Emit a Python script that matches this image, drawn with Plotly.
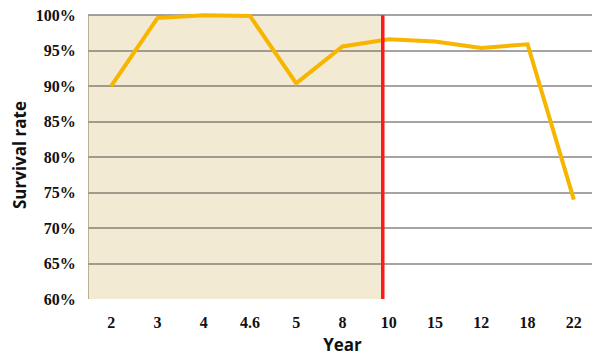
import plotly.graph_objects as go

years = ["2", "3", "4", "4.6", "5", "8", "10", "15", "12", "18", "22"]
survival = [90.0, 99.6, 100.0, 99.9, 90.4, 95.6, 96.6, 96.3, 95.4, 95.9, 74.0]
y_ticks = [60, 65, 70, 75, 80, 85, 90, 95, 100]
cutoff_year = "10"

cut_idx = years.index(cutoff_year) - 0.13

fig = go.Figure()
fig.add_trace(go.Scatter(
    x=years, y=survival, mode="lines",
    line=dict(color="#f7b500", width=4),
    showlegend=False, hoverinfo="skip",
))

fig.add_shape(type="rect", xref="x", yref="y", x0=-0.5, x1=cut_idx,
              y0=y_ticks[0], y1=y_ticks[-1],
              fillcolor="#f3ead3", line=dict(width=0), layer="below")
fig.add_shape(type="line", xref="x", yref="y", x0=cut_idx, x1=cut_idx,
              y0=y_ticks[0], y1=y_ticks[-1],
              line=dict(color="#ff1a1a", width=3.5), layer="above")
fig.add_shape(type="line", xref="x", yref="y", x0=-0.5, x1=-0.5,
              y0=y_ticks[0], y1=y_ticks[-1],
              line=dict(color="#a89c80", width=1.5), layer="above")

tick_font = dict(family="Liberation Serif", size=16, color="#111111")
title_font = dict(family="Open Sans", size=17, color="#111111")

fig.update_layout(
    width=592, height=353,
    margin=dict(l=80, r=3, t=3, b=62, autoexpand=False),
    paper_bgcolor="white", plot_bgcolor="white",
    xaxis=dict(
        type="category", range=[-0.5, len(years) - 0.5],
        showgrid=False, zeroline=False, showline=False,
        ticks="outside", ticklen=9, tickcolor="rgba(0,0,0,0)",
        tickfont=tick_font,
        title=dict(text="<b>Year</b>", font=title_font, standoff=8),
    ),
    yaxis=dict(
        range=[60, 100.6], tickvals=y_ticks,
        ticktext=[f"<b>{v}%</b>" for v in y_ticks],
        ticklabeloverflow="allow",
        showgrid=True, gridcolor="rgba(95,90,80,0.55)", gridwidth=1.5,
        zeroline=False, showline=False,
        ticks="outside", ticklen=8, tickcolor="rgba(0,0,0,0)",
        tickfont=tick_font,
        title=dict(text="<b>Survival rate</b>", font=title_font, standoff=13),
    ),
)
fig.update_xaxes(ticktext=[f"<b>{y}</b>" for y in years], tickvals=years)

fig.write_html("out.html")
